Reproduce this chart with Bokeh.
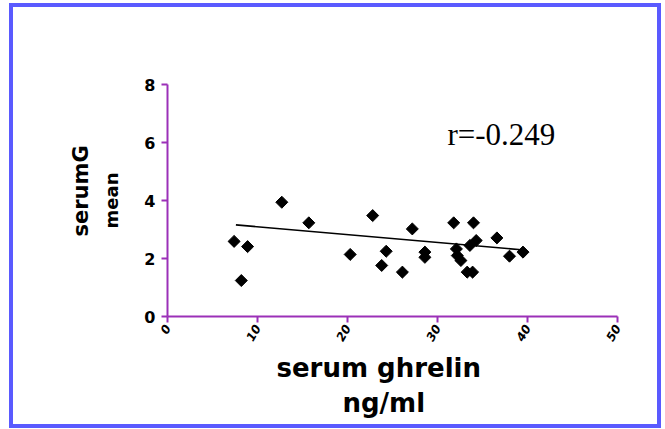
import numpy as np
from bokeh.plotting import figure
from bokeh.models import Range1d, FixedTicker, Label, Title
from bokeh.embed import file_html
from bokeh.resources import INLINE

# data
ghrelin = [7.4, 8.9, 8.2, 12.7, 15.7, 20.3, 22.8, 24.3, 23.8, 26.1, 27.2, 28.6, 28.6,
           31.8, 34.0, 36.6, 34.3, 33.6, 32.1, 32.2, 32.6, 33.3, 33.9, 38.0, 39.5]
value_y = [2.59, 2.41, 1.24, 3.94, 3.23, 2.14, 3.48, 2.25, 1.76, 1.53, 3.02, 2.22, 2.04,
           3.23, 3.23, 2.71, 2.62, 2.45, 2.33, 2.10, 1.93, 1.53, 1.53, 2.08, 2.22]
fit_x = [7.6, 39.3]
fit_y = [3.16, 2.30]
x_ticks = [0, 10, 20, 30, 40, 50]
y_ticks = [0, 2, 4, 6, 8]
r_text = "r=-0.249"
x_label_1 = "serum ghrelin"
x_label_2 = "ng/ml"
y_label_1 = "serumG"
y_label_2 = "mean"

PURPLE = "#9b30b8"

p = figure(width=652, height=425, output_backend="svg", toolbar_location=None,
           x_range=Range1d(0, 50), y_range=Range1d(0, 8),
           min_border_left=154, min_border_right=48, min_border_top=77, min_border_bottom=116)
p.styles = {"border": "4px solid #5a5aff", "margin-top": "3px", "margin-left": "9px"}
p.outline_line_color = None
p.xgrid.visible = False
p.ygrid.visible = False
p.background_fill_color = "white"
p.border_fill_color = "white"

for ax in (p.xaxis[0], p.yaxis[0]):
    ax.axis_line_color = PURPLE
    ax.axis_line_width = 2
    ax.major_tick_line_color = PURPLE
    ax.major_tick_line_width = 2
    ax.major_tick_out = 6
    ax.major_tick_in = 0
    ax.minor_tick_line_color = None
    ax.major_label_text_color = "black"
    ax.major_label_text_font = "DejaVu Sans"
    ax.major_label_text_font_style = "bold"

p.xaxis.ticker = FixedTicker(ticks=x_ticks)
p.yaxis.ticker = FixedTicker(ticks=y_ticks)
p.yaxis.major_label_text_font_size = "16px"
p.xaxis.major_label_text_font_size = "12px"
p.xaxis.major_label_text_font_style = "bold italic"
p.xaxis.major_label_orientation = 1.05
p.xaxis.major_label_standoff = 3
p.yaxis.major_label_standoff = 6

p.yaxis.axis_label = y_label_2
p.yaxis.axis_label_text_font = "DejaVu Sans"
p.yaxis.axis_label_text_font_style = "bold"
p.yaxis.axis_label_text_font_size = "18px"
p.yaxis.axis_label_text_color = "black"
p.yaxis.axis_label_standoff = 19

p.line(fit_x, fit_y, line_color="black", line_width=1.6)

p.scatter(ghrelin, value_y, marker="square", angle=np.pi / 4, size=8.5,
          fill_color="black", line_color="black")

p.add_layout(Label(x=31.1, y=6.28, text=r_text, text_font="Liberation Serif",
                   text_font_size="31px", text_color="black", text_baseline="alphabetic"))

p.add_layout(Title(text=x_label_1, text_font="DejaVu Sans", text_font_style="bold",
                   text_font_size="26px", text_color="black",
                   align="left", offset=109, standoff=6), "below")
p.add_layout(Title(text=x_label_2, text_font="DejaVu Sans", text_font_style="bold",
                   text_font_size="26px", text_color="black",
                   align="left", offset=175, standoff=0), "below")
p.add_layout(Title(text=y_label_1, text_font="DejaVu Sans", text_font_style="bold",
                   text_font_size="21px", text_color="black",
                   align="left", offset=80, standoff=11), "left")

open("out.html", "w").write(file_html(p, INLINE))
